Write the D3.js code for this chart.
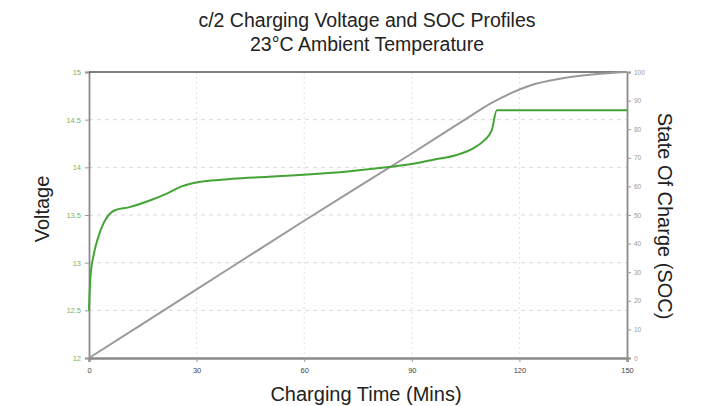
<!DOCTYPE html>
<html><head><meta charset="utf-8">
<script src="https://cdn.jsdelivr.net/npm/d3@7/dist/d3.min.js"></script>
<style>body{margin:0;background:#fff;}svg{display:block;font-family:"Liberation Sans",Arial,sans-serif;}</style>
</head><body>
<svg id="c" width="706" height="406"></svg>
<script>
const titleLines = ["c/2 Charging Voltage and SOC Profiles", "23°C Ambient Temperature"];
const xTicks = [0, 30, 60, 90, 120, 150];
const vTicks = [12, 12.5, 13, 13.5, 14, 14.5, 15];
const socTicks = [0, 10, 20, 30, 40, 50, 60, 70, 80, 90, 100];
const voltTime = [0, 0.4, 1.3, 2.6, 4, 5.5, 7.2, 11, 17.5, 22, 25.8, 31.4, 37, 40, 50, 58.8, 72.8, 83, 92.3, 96, 102.5, 107.1, 110.4, 112.3, 113.7, 150];
const voltage = [12.5, 12.85, 13.08, 13.27, 13.41, 13.5, 13.55, 13.58, 13.66, 13.73, 13.8, 13.85, 13.87, 13.88, 13.9, 13.92, 13.96, 14.0, 14.05, 14.08, 14.13, 14.2, 14.29, 14.39, 14.6, 14.6];
const socTime = [0, 30, 60, 90, 105, 112, 118, 123, 132, 141, 150];
const soc = [0, 24, 48, 71.5, 83.5, 89, 92.8, 95.3, 97.8, 99.2, 100];

const svg = d3.select("#c");
const L = 89, R = 627, T = 72, B = 358;
const x = d3.scaleLinear().domain([0, 150]).range([L, R]);
const yV = d3.scaleLinear().domain([12, 15]).range([B, T]);
const yS = d3.scaleLinear().domain([0, 100]).range([B, T]);

// grid
svg.append("g").selectAll("line").data(vTicks.filter(d => d > 12 && d < 15)).join("line")
  .attr("x1", L).attr("x2", R).attr("y1", d => yV(d)).attr("y2", d => yV(d))
  .attr("stroke", "#d8d8d8").attr("stroke-dasharray", "4,4").attr("stroke-width", 1);
svg.append("g").selectAll("line").data(xTicks.filter(d => d > 0 && d < 150)).join("line")
  .attr("x1", d => x(d)).attr("x2", d => x(d)).attr("y1", T).attr("y2", B)
  .attr("stroke", "#e2e2e2").attr("stroke-dasharray", "2,3").attr("stroke-width", 1);

// axes
const ax = svg.append("g").attr("transform", `translate(0,${B})`)
  .call(d3.axisBottom(x).tickValues(xTicks).tickSize(4).tickPadding(6));
ax.select(".domain").attr("stroke", "#8a8a8a").attr("stroke-width", 2.5);
ax.selectAll(".tick line").attr("stroke", "#999");
ax.selectAll("text").attr("fill", "#444").attr("font-size", 7.5);

const al = svg.append("g").attr("transform", `translate(${L},0)`)
  .call(d3.axisLeft(yV).tickValues(vTicks).tickFormat(d3.format("~g")).tickSize(4).tickPadding(4));
al.select(".domain").attr("stroke", "#8a8a8a").attr("stroke-width", 1.8);
al.selectAll(".tick line").attr("stroke", "#999");
al.selectAll("text").attr("fill", "#7bb35a").attr("font-size", 7.5);

const ar = svg.append("g").attr("transform", `translate(${R},0)`)
  .call(d3.axisRight(yS).tickValues(socTicks).tickSize(4).tickPadding(3));
ar.select(".domain").attr("stroke", "#8a8a8a").attr("stroke-width", 1.8);
ar.selectAll(".tick line").attr("stroke", "#999");
ar.selectAll("text").attr("fill", "#999").attr("font-size", 6.5);

svg.append("line").attr("x1", L).attr("x2", R).attr("y1", T).attr("y2", T)
  .attr("stroke", "#555").attr("stroke-width", 1.6);

// lines
const socLine = d3.line().x((d, i) => x(socTime[i])).y(d => yS(d)).curve(d3.curveMonotoneX);
svg.append("path").attr("d", socLine(soc)).attr("fill", "none")
  .attr("stroke", "#9a9a9a").attr("stroke-width", 2);
const vLine = d3.line().x((d, i) => x(voltTime[i])).y(d => yV(d)).curve(d3.curveMonotoneX);
svg.append("path").attr("d", vLine(voltage)).attr("fill", "none")
  .attr("stroke", "#43a435").attr("stroke-width", 2);

// titles
svg.selectAll(".title").data(titleLines).join("text")
  .attr("x", 367).attr("y", (d, i) => 27 + i * 24).attr("text-anchor", "middle")
  .attr("font-size", 19.5).attr("fill", "#222").text(d => d);
svg.append("text").attr("x", 366).attr("y", 401).attr("text-anchor", "middle")
  .attr("font-size", 20).attr("fill", "#222").text("Charging Time (Mins)");
svg.append("text").attr("transform", "translate(49,209) rotate(-90)").attr("text-anchor", "middle")
  .attr("font-size", 20).attr("fill", "#222").text("Voltage");
svg.append("text").attr("transform", "translate(658,216) rotate(90)").attr("text-anchor", "middle")
  .attr("font-size", 20).attr("fill", "#222").text("State Of Charge (SOC)");
</script>
</body></html>
